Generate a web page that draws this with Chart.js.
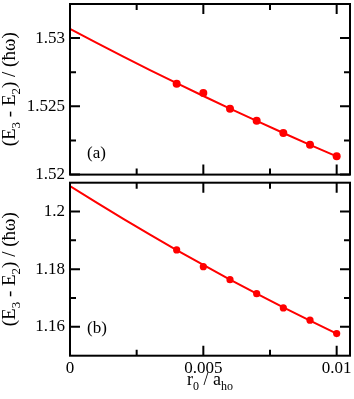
<!DOCTYPE html>
<html><head><meta charset="utf-8">
<script src="https://cdn.jsdelivr.net/npm/chart.js@4"></script>
<style>
html,body{margin:0;padding:0;background:#fff;}
#wrap{position:relative;width:354px;height:399px;}
canvas{position:absolute;left:0;top:0;}
</style>
</head><body>
<div id="wrap"><canvas id="c1" width="354" height="399"></canvas><canvas id="c2" width="354" height="399"></canvas></div>
<script>
// ---- data ----
const xPoints = [0.004, 0.005, 0.006, 0.007, 0.008, 0.009, 0.010];
const topPoints = [1.52666, 1.52598, 1.52483, 1.52394, 1.52305, 1.52219, 1.52134];
const botPoints = [1.18667, 1.18088, 1.17638, 1.17150, 1.16658, 1.16232, 1.15768];
const fitX = [0, 0.001, 0.002, 0.003, 0.004, 0.005, 0.006, 0.007, 0.008, 0.009, 0.010];
const topFit = [1.53067, 1.52965, 1.52864, 1.52766, 1.52670, 1.52576, 1.52483, 1.52393, 1.52305, 1.52218, 1.52134];
const botFit = [1.20883, 1.20307, 1.19745, 1.19198, 1.18665, 1.18146, 1.17642, 1.17152, 1.16676, 1.16215, 1.15768];
const xTicks = [0, 0.005, 0.01];
const xMinorTicks = [0.0025, 0.0075];
const topYTicks = [1.52, 1.525, 1.53];
const topYMinor = [1.5225, 1.5275];
const botYTicks = [1.16, 1.18, 1.2];
const botYMinor = [1.17, 1.19];
const yTitleParts = [["(E",0],["3",1],[" - E",0],["2",1],[") / (\u0127\u03c9)",0]];
const xTitleParts = [["r",0],["0",1],[" / a",0],["ho",1]];
const panelLabels = ["(a)", "(b)"];

const FONT = "'Liberation Serif','Times New Roman',serif";
const RED = '#ff0000';

function drawParts(ctx, parts, size, x, y, align) {
  let w = 0;
  const m = parts.map(([t, sub]) => {
    ctx.font = (sub ? Math.round(size*0.68) : size) + 'px ' + FONT;
    const tw = ctx.measureText(t).width; w += tw; return tw;
  });
  let cx = align === 'center' ? x - w/2 : x;
  parts.forEach(([t, sub], i) => {
    ctx.font = (sub ? Math.round(size*0.68) : size) + 'px ' + FONT;
    ctx.fillText(t, cx, y + (sub ? size*0.28 : 0));
    cx += m[i];
  });
}

const framePlugin = {
  id: 'frame',
  afterDraw(chart, args, opts) {
    const ctx = chart.ctx, a = chart.chartArea;
    const xs = chart.scales.x, ys = chart.scales.y;
    ctx.save();
    ctx.strokeStyle = '#000'; ctx.lineWidth = 2;
    ctx.beginPath();
    const tick = (vals, len) => {
      vals.forEach(v => {
        const px = xs.getPixelForValue(v);
        ctx.moveTo(px, a.bottom); ctx.lineTo(px, a.bottom - len);
        ctx.moveTo(px, a.top); ctx.lineTo(px, a.top + len);
      });
    };
    const ytick = (vals, len) => {
      vals.forEach(v => {
        const py = ys.getPixelForValue(v);
        ctx.moveTo(a.left, py); ctx.lineTo(a.left + len, py);
        ctx.moveTo(a.right, py); ctx.lineTo(a.right - len, py);
      });
    };
    tick(xTicks, 10); tick(xMinorTicks, 6);
    ytick(opts.yMajor, 10); ytick(opts.yMinor, 6);
    ctx.stroke();
    ctx.strokeRect(a.left, a.top, a.right - a.left, a.bottom - a.top);
    ctx.fillStyle = '#000';
    ctx.textBaseline = 'alphabetic';
    ctx.save();
    ctx.translate(15, (a.top + a.bottom)/2);
    ctx.rotate(-Math.PI/2);
    drawParts(ctx, yTitleParts, 19, 0, 0, 'center');
    ctx.restore();
    ctx.font = '17px ' + FONT;
    ctx.textAlign = 'left';
    ctx.fillText(opts.label, xs.getPixelForValue(opts.labelAt[0]), ys.getPixelForValue(opts.labelAt[1]));
    if (opts.xTitle) {
      drawParts(ctx, xTitleParts, 18, (a.left + a.right)/2, 385, 'center');
    }
    ctx.restore();
  }
};

function makeChart(id, fitVals, ptVals, yMin, yMax, yMajor, yMinor, showX, label, labelAt, radius) {
  const padTop = showX ? 182.7 : 2.7;
  return new Chart(document.getElementById(id), {
    type: 'scatter',
    data: {
      datasets: [
        { data: fitX.map((x, i) => ({x, y: fitVals[i]})), showLine: true, borderColor: RED, borderWidth: 2, pointRadius: 0, tension: 0 },
        { data: xPoints.map((x, i) => ({x, y: ptVals[i]})), showLine: false, backgroundColor: RED, borderColor: RED, borderWidth: 0, pointRadius: radius }
      ]
    },
    options: {
      responsive: false, animation: false, devicePixelRatio: 1,
      layout: { padding: { left: 0, right: 4, top: padTop, bottom: showX ? 0 : 224.4 } },
      plugins: { legend: { display: false }, tooltip: { enabled: false },
        frame: { yMajor, yMinor, label, labelAt, xTitle: showX } },
      scales: {
        x: {
          type: 'linear', min: 0, max: 0.0105, display: showX,
          afterBuildTicks: s => { s.ticks = xTicks.map(v => ({value: v})); },
          ticks: { color: '#000', font: { family: FONT, size: 17 }, padding: 3, maxRotation: 0, autoSkip: false, callback: v => String(v) },
          grid: { display: false, drawTicks: false }, border: { display: false },
          afterFit: s => { s.height = showX ? 43.3 : 0; s.paddingLeft = 0; s.paddingRight = 0; }
        },
        y: {
          type: 'linear', min: yMin, max: yMax,
          afterBuildTicks: s => { s.ticks = yMajor.map(v => ({value: v})); },
          ticks: { color: '#000', font: { family: FONT, size: 17 }, padding: 5, autoSkip: false, callback: v => String(v) },
          grid: { display: false, drawTicks: false }, border: { display: false },
          afterFit: s => { s.width = 70; s.paddingTop = 0; s.paddingBottom = 0; }
        }
      }
    },
    plugins: [framePlugin]
  });
}

makeChart('c1', topFit, topPoints, 1.52, 1.5325, topYTicks, topYMinor, false, panelLabels[0], [0.00064, 1.5212], 4);
makeChart('c2', botFit, botPoints, 1.15, 1.21, botYTicks, botYMinor, true, panelLabels[1], [0.00064, 1.15792], 3.6);
</script>
</body></html>
